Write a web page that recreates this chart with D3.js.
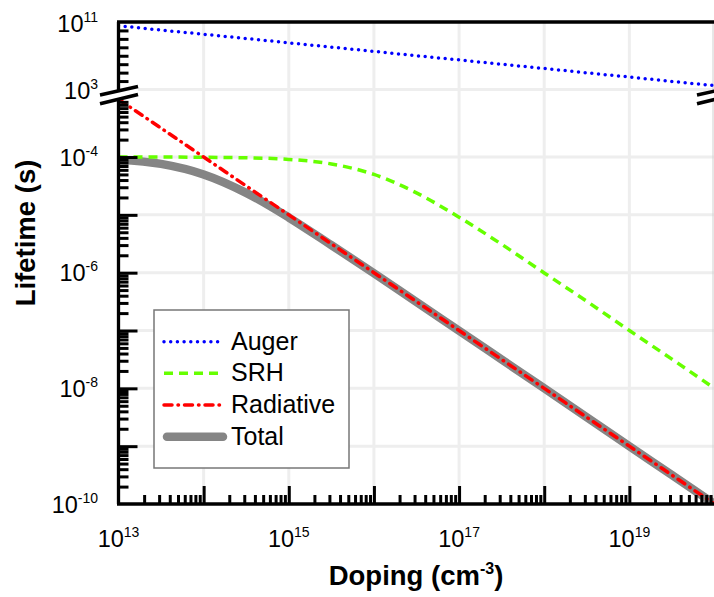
<!DOCTYPE html>
<html>
<head>
<meta charset="utf-8">
<script src="https://cdn.jsdelivr.net/npm/d3@7"></script>
<style>
  body { margin: 0; background: #fff; }
  svg { display: block; font-family: "Liberation Sans", Arial, sans-serif; }
</style>
</head>
<body>
<svg id="vis" width="714" height="597"></svg>
<script>
// doping levels (cm^-3), half-decade steps
const doping = [1e13, 3.16e13, 1e14, 3.16e14, 1e15, 3.16e15, 1e16, 3.16e16,
                1e17, 3.16e17, 1e18, 3.16e18, 1e19, 3.16e19, 1e20];
// lifetimes (s)
const auger = [3.6e10, 1.1e10, 3.5e9, 1.1e9, 3.4e8, 1.05e8, 3.3e7, 1.0e7,
               3.2e6, 9.8e5, 3.1e5, 9.5e4, 3.0e4, 9.1e3, 2.9e3];
const srh = [1.0e-4, 1.0e-4, 9.9e-5, 9.7e-5, 9.1e-5, 7.6e-5, 5.0e-5, 2.4e-5,
             9.1e-6, 3.1e-6, 9.9e-7, 3.2e-7, 1.0e-7, 3.2e-8, 1.0e-8];
const radiative = [1e-3, 3.16e-4, 1e-4, 3.16e-5, 1e-5, 3.16e-6, 1e-6, 3.16e-7,
                   1e-7, 3.16e-8, 1e-8, 3.16e-9, 1e-9, 3.16e-10, 1e-10];
const total = [9.1e-5, 7.6e-5, 5.0e-5, 2.4e-5, 9.0e-6, 3.0e-6, 9.8e-7, 3.1e-7,
               9.9e-8, 3.15e-8, 1.0e-8, 3.16e-9, 1.0e-9, 3.16e-10, 1.0e-10];

const xTickLabels = [1e13, 1e15, 1e17, 1e19];
const yLowLabels = [1e-4, 1e-6, 1e-8, 1e-10];
const yHighLabels = [1e11, 1e3];
const legendNames = ['Auger', 'SRH', 'Radiative', 'Total'];

const svg = d3.select('#vis');
const plotLeft = 118.5, plotRight = 714.5, plotTop = 22, plotBottom = 504;
const hiBottom = 89.5, loTop = 99.2;

const x = d3.scaleLog().domain([1e13, 1e20]).range([plotLeft, plotRight]);
const yHi = d3.scaleLog().domain([1e3, 1e11]).range([hiBottom, plotTop]);
const yLo = d3.scaleLog().domain([1e-10, 1e-3]).range([plotBottom, loTop]);

function decades(a, b) {
    var out = [];
    for (var e = a; e <= b; e++) out.push(Math.pow(10, e));
    return out;
}
function minors(a, b) {
    var out = [];
    for (var e = a; e < b; e++) for (var k = 2; k <= 9; k++) out.push(k * Math.pow(10, e));
    return out;
}
function exponent(v) { return Math.round(Math.log10(v)); }

// grid
var grid = svg.append('g').attr('stroke', '#eeeeee').attr('stroke-width', 3);
grid.selectAll('line.v').data(decades(14, 19)).enter().append('line').attr('class', 'v')
    .attr('x1', d => x(d)).attr('x2', d => x(d)).attr('y1', plotTop).attr('y2', plotBottom);
grid.selectAll('line.h').data(decades(-9, -4)).enter().append('line').attr('class', 'h')
    .attr('x1', plotLeft).attr('x2', plotRight).attr('y1', d => yLo(d)).attr('y2', d => yLo(d));
grid.append('line').attr('x1', plotLeft).attr('x2', plotRight).attr('y1', yHi(1e3)).attr('y2', yHi(1e3));
svg.append('line').attr('x1', 713).attr('x2', 713).attr('y1', plotTop).attr('y2', plotBottom)
    .attr('stroke', '#d0d0d0').attr('stroke-width', 1);

// curves
svg.append('clipPath').attr('id', 'clipHi').append('rect')
    .attr('x', plotLeft).attr('y', plotTop).attr('width', plotRight - plotLeft).attr('height', hiBottom - plotTop);
svg.append('clipPath').attr('id', 'clipLo').append('rect')
    .attr('x', plotLeft).attr('y', loTop - 2).attr('width', plotRight - plotLeft).attr('height', plotBottom - loTop + 2);

function lineFor(ys) {
    return d3.line().x(d => x(d[0])).y(d => ys(d[1])).curve(d3.curveMonotoneX);
}
const zip = vals => doping.map((d, i) => [d, vals[i]]);

var lo = svg.append('g').attr('clip-path', 'url(#clipLo)').attr('fill', 'none');
lo.append('path').attr('d', lineFor(yLo)(zip(total)))
    .attr('stroke', '#858585').attr('stroke-width', 8.5);
lo.append('path').attr('d', lineFor(yLo)(zip(srh)))
    .attr('stroke', '#66ff00').attr('stroke-width', 3.5).attr('stroke-dasharray', '9,6');
lo.append('path').attr('d', lineFor(yLo)(zip(radiative)))
    .attr('stroke', '#ff0000').attr('stroke-width', 3.5).attr('stroke-linecap', 'round')
    .attr('stroke-dasharray', '8,6,0.5,6');

svg.append('g').attr('clip-path', 'url(#clipHi)').append('path')
    .attr('d', lineFor(yHi)(zip(auger))).attr('fill', 'none')
    .attr('stroke', '#0000ff').attr('stroke-width', 3.5).attr('stroke-linecap', 'round')
    .attr('stroke-dasharray', '0,6.7');

// ticks
function tickStyle(g) {
    g.select('.domain').remove();
    g.selectAll('line').attr('stroke', '#000').attr('stroke-width', 3);
}
svg.append('g').attr('transform', 'translate(0,' + plotBottom + ')')
    .call(d3.axisBottom(x).tickValues(decades(14, 19)).tickSize(-18).tickFormat('')).call(tickStyle);
svg.append('g').attr('transform', 'translate(0,' + plotBottom + ')')
    .call(d3.axisBottom(x).tickValues(minors(13, 20)).tickSize(-9).tickFormat('')).call(tickStyle);
svg.append('g').attr('transform', 'translate(' + plotLeft + ',0)')
    .call(d3.axisLeft(yLo).tickValues(decades(-9, -4)).tickSize(-19).tickFormat('')).call(tickStyle);
svg.append('g').attr('transform', 'translate(' + plotLeft + ',0)')
    .call(d3.axisLeft(yLo).tickValues(minors(-10, -3)).tickSize(-10).tickFormat('')).call(tickStyle);
svg.append('g').attr('transform', 'translate(' + plotLeft + ',0)')
    .call(d3.axisLeft(yHi).tickValues(decades(4, 10)).tickSize(-10).tickFormat('')).call(tickStyle);

// frame
var frame = svg.append('g').attr('stroke', '#000').attr('stroke-width', 3.3).attr('fill', 'none');
frame.append('line').attr('x1', plotLeft - 1.5).attr('x2', 714).attr('y1', plotTop).attr('y2', plotTop);
frame.append('line').attr('x1', plotLeft - 1.5).attr('x2', 714).attr('y1', plotBottom).attr('y2', plotBottom);
frame.append('line').attr('x1', plotLeft).attr('x2', plotLeft).attr('y1', plotTop).attr('y2', plotBottom);

// axis breaks
function axisBreak(cx) {
    var g = svg.append('g');
    g.append('polygon')
        .attr('points', [[cx - 18.5, 95], [cx + 19.5, 86.5], [cx + 19.5, 94.5], [cx - 18.5, 103.8]].join(' '))
        .attr('fill', '#fff');
    g.selectAll('line').data([[95, 86.5], [103.8, 94.5]]).enter().append('line')
        .attr('x1', cx - 18.5).attr('x2', cx + 19.5).attr('y1', d => d[0]).attr('y2', d => d[1])
        .attr('stroke', '#000').attr('stroke-width', 3.5);
}
axisBreak(plotLeft);
axisBreak(plotRight + 1);

// tick labels
function powerLabel(sel) {
    sel.append('tspan').text('10');
    sel.append('tspan').attr('dy', -10).attr('font-size', 14).text(d => exponent(d));
}
svg.append('g').selectAll('text').data(xTickLabels).enter().append('text')
    .attr('x', d => x(d)).attr('y', 547).attr('text-anchor', 'middle')
    .attr('font-size', 23.5).call(powerLabel);
svg.append('g').selectAll('text').data(yLowLabels).enter().append('text')
    .attr('x', 98).attr('y', d => yLo(d) + 8.5).attr('text-anchor', 'end')
    .attr('font-size', 23.5).call(powerLabel);
svg.append('g').selectAll('text').data(yHighLabels).enter().append('text')
    .attr('x', 98).attr('y', d => yHi(d) + 9.5).attr('text-anchor', 'end')
    .attr('font-size', 23.5).call(powerLabel);

// axis titles
var xt = svg.append('text').attr('x', 416).attr('y', 585).attr('text-anchor', 'middle')
    .attr('font-size', 27.5).attr('font-weight', 'bold');
xt.append('tspan').text('Doping (cm');
xt.append('tspan').attr('dy', -11).attr('font-size', 16).text('-3');
xt.append('tspan').attr('dy', 11).text(')');
svg.append('text').attr('transform', 'translate(35,233) rotate(-90)').attr('text-anchor', 'middle')
    .attr('font-size', 27.5).attr('font-weight', 'bold').text('Lifetime (s)');

// legend
var legend = svg.append('g');
legend.append('rect').attr('x', 154).attr('y', 310).attr('width', 195).attr('height', 158)
    .attr('fill', '#fff').attr('stroke', '#777').attr('stroke-width', 1.5);
var styles = [
    {stroke: '#0000ff', width: 3.5, dash: '0,6.7', cap: 'round'},
    {stroke: '#66ff00', width: 3.5, dash: '9,6', cap: 'butt'},
    {stroke: '#ff0000', width: 3.5, dash: '8,6,0.5,6', cap: 'round'},
    {stroke: '#858585', width: 8.5, dash: null, cap: 'round'}
];
var rowY = d3.scalePoint().domain(legendNames).range([341.7, 436.7]);
var rows = legend.selectAll('g.row').data(legendNames).enter().append('g');
rows.append('line')
    .attr('x1', (d, i) => i == 3 ? 167 : 164).attr('x2', 223)
    .attr('y1', d => rowY(d)).attr('y2', d => rowY(d))
    .attr('stroke', (d, i) => styles[i].stroke).attr('stroke-width', (d, i) => styles[i].width)
    .attr('stroke-dasharray', (d, i) => styles[i].dash).attr('stroke-linecap', (d, i) => styles[i].cap);
rows.append('text').attr('x', 231).attr('y', d => rowY(d) + 8)
    .attr('font-size', 25).text(d => d);
</script>
</body>
</html>
